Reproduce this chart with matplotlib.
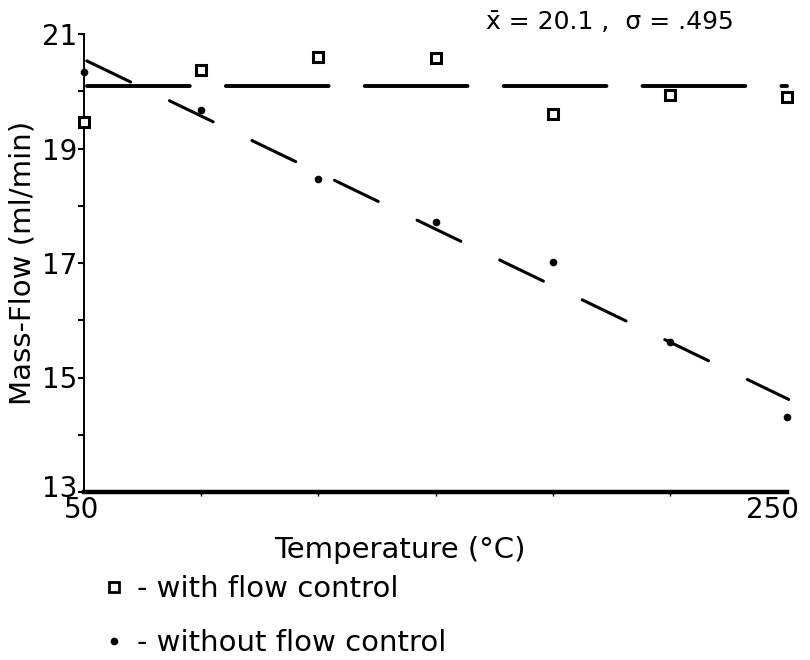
import matplotlib
matplotlib.use("Agg")
import matplotlib.pyplot as plt
from matplotlib.lines import Line2D
import matplotlib.transforms as mtransforms
import numpy as np

plt.rcParams['font.family'] = ['DejaVu Sans']
plt.rcParams['lines.scale_dashes'] = False

# Data
temperature = [50, 83.3, 116.7, 150, 183.3, 216.7, 250]
with_control = [19.46, 20.37, 20.60, 20.58, 19.60, 19.93, 19.90]
without_control = [20.34, 19.67, 18.47, 17.72, 17.02, 15.62, 14.31]
mean_label = "x\u0304 = 20.1 ,  σ = .495"
x_ticks = [50, 250]
y_ticks = [13, 15, 17, 19, 21]
y_minor = [14, 16, 18, 20]

fig = plt.figure(figsize=(8.1, 6.6), dpi=100)
ax = fig.add_axes([84/810, 1 - 492/660, (787-84)/810, (492-34)/660])

t = np.array(temperature)
wc = np.array(with_control)
wo = np.array(without_control)

# mean line for "with flow control"
mean_val = round(wc.mean(), 1)
ax.plot([t[0] + 0.8, t[-1]], [mean_val, mean_val], color='black', lw=2.8,
        dashes=(74, 26), dash_capstyle='round', clip_on=False)

# regression line for "without flow control"
slope, icpt = np.polyfit(t, wo, 1)
xs = np.array([t[0] + 0.8, t[-1] + 0.5])
ax.plot(xs, slope * xs + icpt, color='black', lw=2.2, dashes=(35, 31),
        dash_capstyle='round', clip_on=False)

ax.plot(t, wc, linestyle='none', marker='s', markersize=7, markerfacecolor='white',
        markeredgecolor='black', markeredgewidth=2.2, clip_on=False, zorder=5)
ax.plot(t, wo, linestyle='none', marker='o', markersize=4.5, color='black',
        clip_on=False, zorder=5)

ax.set_xlim(50, 250)
ax.set_ylim(13, 21)
for s in ['top', 'right']:
    ax.spines[s].set_visible(False)
ax.spines['bottom'].set_linewidth(3.2)
ax.spines['left'].set_linewidth(1.4)

ax.set_xticks(x_ticks)
ax.set_xticklabels([str(v) for v in x_ticks], fontsize=20)
ax.set_xticks(temperature[1:-1], minor=True)
ax.set_yticks(y_ticks)
ax.set_yticklabels([str(v) for v in y_ticks], fontsize=20)
ax.set_yticks(y_minor, minor=True)
ax.tick_params(axis='x', which='major', length=0, pad=3)
ax.tick_params(axis='x', which='minor', length=3, width=1, direction='out')
ax.tick_params(axis='y', which='major', length=4, width=1.5, pad=1, direction='out')
ax.tick_params(axis='y', which='minor', length=4, width=1.5, direction='out')

# nudge edge tick labels like the reference
xl = ax.get_xticklabels()
xl[0].set_transform(xl[0].get_transform() + mtransforms.ScaledTranslation(-2/100, 0, fig.dpi_scale_trans))
xl[1].set_transform(xl[1].get_transform() + mtransforms.ScaledTranslation(-14/100, 0, fig.dpi_scale_trans))
yl = ax.get_yticklabels()
yl[0].set_transform(yl[0].get_transform() + mtransforms.ScaledTranslation(0, 6/100, fig.dpi_scale_trans))

ax.set_xlabel("Temperature (°C)", fontsize=21)
ax.xaxis.set_label_coords(0.45, -0.095)
ax.set_ylabel("Mass-Flow (ml/min)", fontsize=21, labelpad=4)

fig.text(610/810, 1 - 22/660, mean_label, fontsize=18, ha='center', va='center')

handles = [
    Line2D([], [], linestyle='none', marker='s', markersize=7, markerfacecolor='white',
           markeredgecolor='black', markeredgewidth=2.0),
    Line2D([], [], linestyle='none', marker='o', markersize=4.5, color='black'),
]
labels = ["- with flow control", "- without flow control"]
fig.legend(handles, labels, loc='upper left', bbox_to_anchor=(102/810, 1 - 575/660),
           frameon=False, fontsize=21, handlelength=0.8, handletextpad=0.4,
           labelspacing=0.9, borderpad=0, borderaxespad=0)

fig.savefig("out.png", dpi=100)
